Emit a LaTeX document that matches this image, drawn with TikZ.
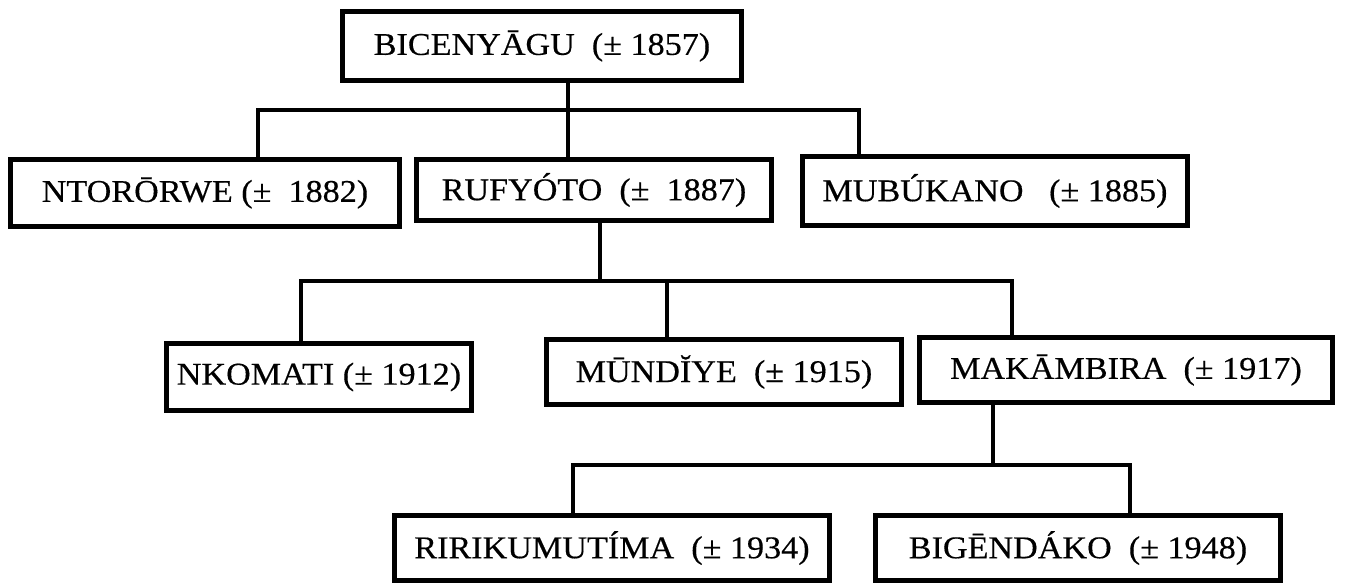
\documentclass[tikz,border=0pt]{standalone}
\usepackage{fontspec}
\setmainfont[FakeStretch=1.08, FakeBold=0.4]{Liberation Serif}
\usepackage{tikz}

\tikzset{
  person/.style={draw, line width=0.1cm, rectangle, align=center, inner sep=0pt,
    font=\fontsize{18}{21}\selectfont},
  familyLink/.style={draw, line width=0.09cm}
}

\begin{document}
\begin{tikzpicture}[x=0.02cm, y=-0.02cm]
  \useasboundingbox (0,0) rectangle (1345,584);

  \node[person, minimum width=8.0cm, minimum height=1.38cm] (bicenyagu) at (542,46) {BICENYĀGU~~(± 1857)};

  \node[person, minimum width=7.8cm, minimum height=1.34cm] (ntororwe) at (205,193) {NTORŌRWE (±~~1882)};
  \node[person, minimum width=7.1cm, minimum height=1.24cm] (rufyoto) at (594,190) {RUFYÓTO~~(±~~1887)};
  \node[person, minimum width=7.7cm, minimum height=1.38cm] (mubukano) at (995,191) {MUBÚKANO~~~(± 1885)};

  \node[person, minimum width=6.1cm, minimum height=1.36cm] (nkomati) at (319,377) {NKOMATI (± 1912)};
  \node[person, minimum width=7.1cm, minimum height=1.32cm] (mundiye) at (724,372) {MŪNDĬYE~~(±~1915)};
  \node[person, minimum width=8.26cm, minimum height=1.30cm] (makambira) at (1126,370) {MAKĀMBIRA~~(±~1917)};

  \node[person, minimum width=8.7cm, minimum height=1.30cm] (ririkumutima) at (612,548) {RIRIKUMUTÍMA~~(±~1934)};
  \node[person, minimum width=8.1cm, minimum height=1.30cm] (bigendako) at (1078,548) {BIGĒNDÁKO~~(±~1948)};

  \coordinate (topBar) at (568,110);
  \coordinate (topBarLeft) at (258,110);
  \coordinate (topBarRight) at (859,110);

  \coordinate (midBar) at (600,281);
  \coordinate (midBarLeft) at (301,281);
  \coordinate (midBarCentre) at (667,281);
  \coordinate (midBarRight) at (1012,281);

  \coordinate (lowBar) at (993,465);
  \coordinate (lowBarLeft) at (573,465);
  \coordinate (lowBarRight) at (1130,465);

  \draw[familyLink] (topBar |- bicenyagu.south) -- (topBar) -- (topBar |- rufyoto.north);
  \draw[familyLink] (ntororwe.north -| topBarLeft) -- (topBarLeft) -- (topBarRight) -- (mubukano.north -| topBarRight);

  \draw[familyLink] (midBar |- rufyoto.south) -- (midBar);
  \draw[familyLink] (nkomati.north -| midBarLeft) -- (midBarLeft) -- (midBarRight) -- (makambira.north -| midBarRight);
  \draw[familyLink] (midBarCentre) -- (mundiye.north -| midBarCentre);

  \draw[familyLink] (lowBar |- makambira.south) -- (lowBar);
  \draw[familyLink] (ririkumutima.north -| lowBarLeft) -- (lowBarLeft) -- (lowBarRight) -- (bigendako.north -| lowBarRight);

\end{tikzpicture}
\end{document}
